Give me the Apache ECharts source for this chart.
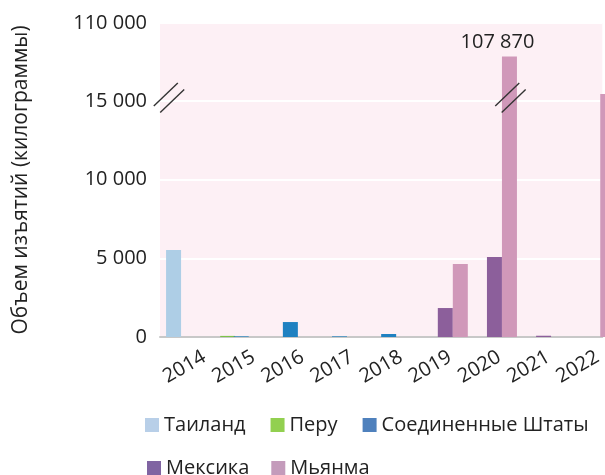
<!DOCTYPE html>
<html>
<head>
<meta charset="utf-8">
<script src="https://cdn.jsdelivr.net/npm/echarts@6.0.0/dist/echarts.min.js"></script>
<style>
  html, body { margin: 0; padding: 0; background: #fff; }
  #chart { width: 605px; height: 475px; }
</style>
</head>
<body>
<div id="chart"></div>
<script>
// данные
var years = ['2014', '2015', '2016', '2017', '2018', '2019', '2020', '2021', '2022'];
var thailand = [5530, null, null, null, null, null, null, null, null];
var peru     = [null, 70, null, null, null, null, null, null, null];
var usa      = [null, 40, 950, 40, 190, null, null, null, null];
var mexico   = [null, null, null, null, null, 1840, 5080, 80, null];
var myanmar  = [null, null, null, null, null, 4640, 107870, null, 15440];
var seriesNames = ['Таиланд', 'Перу', 'Соединенные Штаты', 'Мексика', 'Мьянма'];
var yTicks = [0, 5000, 10000, 15000, 110000];

// оформление
var barColors = ['#aecee6', '#7cc24a', '#1f81c1', '#8c5f9b', '#d098b9'];
var legendColors = ['#b8cfe8', '#92d050', '#4f81bd', '#8064a2', '#c49bbb'];
var barOffsets = [-11, -6, 7.5, 15, 30];
var barWidth = 15;
var gridLeft = 160;
var breakStart = 15600, breakEnd = 106500, breakGap = 845;
var breakMark = 15200;
var font = 'Open Sans';

function fmt(v) {
    return String(v).replace(/\B(?=(\d{3})+(?!\d))/g, ' ');
}

function slash(cx, cy) {
    // две косые черты разрыва
    var lines = [];
    [[-3.2, -3.2], [3.2, 3.2]].forEach(function (d) {
        lines.push({
            type: 'line',
            shape: { x1: cx + d[0] - 12, y1: cy + d[1] + 11.5, x2: cx + d[0] + 12, y2: cy + d[1] - 11.5 },
            style: { stroke: '#333', lineWidth: 1.4 },
            z2: 20
        });
    });
    return lines;
}

function makeSeries(name, values, idx) {
    var data = [];
    values.forEach(function (v, i) {
        if (v != null) data.push([i, v]);
    });
    return {
        name: name,
        type: 'custom',
        itemStyle: { color: barColors[idx] },
        encode: { x: 0, y: 1 },
        data: data,
        z: 3,
        renderItem: function (params, api) {
            var v = api.value(1);
            var base = api.coord([api.value(0), 0]);
            var top = api.coord([api.value(0), v]);
            var cx = base[0] + barOffsets[idx];
            var children = [{
                type: 'rect',
                shape: { x: cx - barWidth / 2, y: top[1], width: barWidth, height: base[1] - top[1] },
                style: { fill: barColors[idx] }
            }];
            if (v > breakEnd) {
                var my = api.coord([api.value(0), breakMark])[1];
                children = children.concat(slash(cx + 1, my));
                children.push({
                    type: 'text',
                    x: cx - 12,
                    y: top[1] - 4,
                    style: {
                        text: fmt(v), fill: '#222', fontSize: 20, fontFamily: font,
                        align: 'center', verticalAlign: 'bottom'
                    }
                });
            }
            return { type: 'group', children: children };
        }
    };
}

var dom = document.getElementById('chart');
var myChart = echarts.init(dom, null, { renderer: 'canvas' });

var option = {
    animation: false,
    textStyle: { fontFamily: font },
    grid: {
        left: gridLeft, right: 0, top: 23, bottom: 138,
        show: true, backgroundColor: '#fdf0f5', borderWidth: 0
    },
    legend: [
        {
            data: seriesNames.slice(0, 3).map(function (n, i) {
                return { name: n, itemStyle: { color: legendColors[i] } };
            }),
            left: 145, top: 415, padding: 0,
            icon: 'rect', itemWidth: 14, itemHeight: 14, itemGap: 25,
            textStyle: { fontSize: 20, color: '#222', fontFamily: font }
        },
        {
            data: seriesNames.slice(3).map(function (n, i) {
                return { name: n, itemStyle: { color: legendColors[i + 3] } };
            }),
            left: 147, top: 458, padding: 0,
            icon: 'rect', itemWidth: 14, itemHeight: 14, itemGap: 22,
            textStyle: { fontSize: 20, color: '#222', fontFamily: font }
        }
    ],
    xAxis: {
        type: 'category',
        data: years,
        axisLine: { lineStyle: { color: '#c8c8c8', width: 2 } },
        axisTick: { show: false },
        axisLabel: {
            interval: 0,
            rotate: 30, align: 'center', verticalAlign: 'middle', margin: 30,
            fontSize: 20, color: '#222', fontFamily: font
        }
    },
    yAxis: {
        type: 'value',
        min: 0,
        max: 110000,
        interval: 5000,
        name: 'Объем изъятий (килограммы)',
        nameLocation: 'middle',
        nameGap: 128,
        nameTextStyle: { fontSize: 21, color: '#222', fontFamily: font },
        breaks: [{ start: breakStart, end: breakEnd, gap: breakGap }],
        breakArea: { show: false },
        axisLine: { show: false },
        axisTick: { show: false, customValues: yTicks },
        axisLabel: {
            margin: 13, fontSize: 20, color: '#222', fontFamily: font,
            customValues: yTicks,
            formatter: function (value) {
                return fmt(value);
            }
        },
        splitLine: { lineStyle: { color: '#fff', width: 2 } }
    },
    series: [
        makeSeries(seriesNames[0], thailand, 0),
        makeSeries(seriesNames[1], peru, 1),
        makeSeries(seriesNames[2], usa, 2),
        makeSeries(seriesNames[3], mexico, 3),
        makeSeries(seriesNames[4], myanmar, 4)
    ]
};
myChart.setOption(option);

// разрыв на оси
var markY = myChart.convertToPixel({ yAxisIndex: 0 }, breakMark);
myChart.setOption({
    graphic: slash(gridLeft + 9, markY).map(function (l) {
        l.z = 10;
        return l;
    })
});

window.addEventListener('resize', myChart.resize);
</script>
</body>
</html>
